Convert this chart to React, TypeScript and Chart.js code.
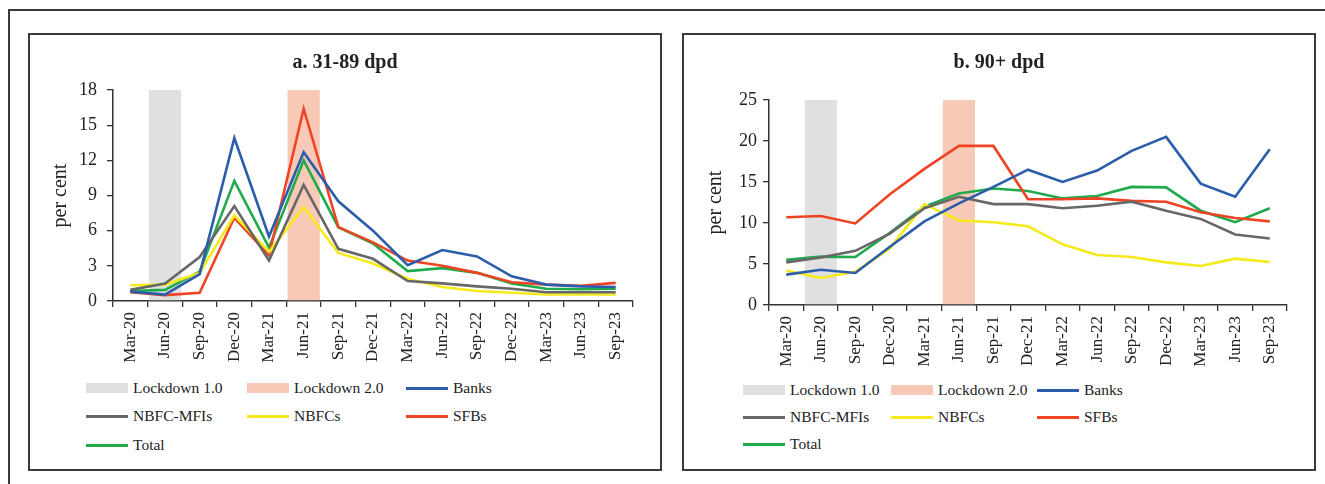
import React, { useEffect, useRef } from "react";
import { Chart, registerables } from "chart.js";

Chart.register(...registerables);

const categories = ["Mar-20", "Jun-20", "Sep-20", "Dec-20", "Mar-21", "Jun-21", "Sep-21", "Dec-21", "Mar-22", "Jun-22", "Sep-22", "Dec-22", "Mar-23", "Jun-23", "Sep-23"];

// Panel a: 31-89 dpd
const banksA = [0.8, 0.55, 2.3, 13.9, 5.5, 12.7, 8.5, 6.0, 3.05, 4.35, 3.8, 2.1, 1.4, 1.25, 1.2];
const nbfcMfiA = [0.95, 1.5, 3.75, 8.1, 3.45, 9.9, 4.45, 3.6, 1.7, 1.5, 1.25, 1.05, 0.75, 0.75, 0.75];
const nbfcA = [1.35, 1.4, 2.4, 7.3, 4.2, 8.0, 4.1, 3.2, 1.9, 1.2, 0.85, 0.7, 0.55, 0.55, 0.55];
const sfbA = [0.75, 0.5, 0.7, 7.1, 3.9, 16.4, 6.3, 5.0, 3.45, 3.0, 2.4, 1.6, 1.4, 1.3, 1.55];
const totalA = [0.85, 0.95, 2.5, 10.25, 4.55, 12.0, 6.3, 4.9, 2.55, 2.8, 2.4, 1.5, 1.05, 1.0, 1.05];
const lockdown1A = [null, 18, null, null, null, null, null, null, null, null, null, null, null, null, null];
const lockdown2A = [null, null, null, null, null, 18, null, null, null, null, null, null, null, null, null];

// Panel b: 90+ dpd
const banksB = [3.7, 4.3, 3.9, 7.1, 10.2, 12.4, 14.4, 16.5, 15.0, 16.4, 18.8, 20.5, 14.8, 13.2, 19.0];
const nbfcMfiB = [5.2, 5.8, 6.6, 8.7, 11.8, 13.2, 12.3, 12.3, 11.8, 12.1, 12.6, 11.5, 10.5, 8.6, 8.1];
const nbfcB = [4.2, 3.3, 4.05, 6.9, 12.3, 10.3, 10.1, 9.6, 7.4, 6.1, 5.85, 5.2, 4.75, 5.65, 5.25];
const sfbB = [10.7, 10.85, 9.95, 13.5, 16.6, 19.4, 19.4, 12.9, 12.9, 13.0, 12.7, 12.6, 11.3, 10.6, 10.2];
const totalB = [5.5, 5.9, 5.85, 8.8, 12.0, 13.6, 14.2, 13.9, 13.0, 13.3, 14.4, 14.35, 11.5, 10.1, 11.8];
const lockdown1B = [null, 25, null, null, null, null, null, null, null, null, null, null, null, null, null];
const lockdown2B = [null, null, null, null, null, 25, null, null, null, null, null, null, null, null, null];

const yTicksA = { min: 0, max: 18, step: 3 };
const yTicksB = { min: 0, max: 25, step: 5 };

const COLORS = {
  lock1: "#e0e0e0",
  lock2: "#f8c9b7",
  banks: "#2b5dab",
  mfi: "#676767",
  nbfc: "#f6eb1a",
  sfb: "#ee4424",
  total: "#1fab4c",
};

const FONT = "'Liberation Serif', 'Times New Roman', serif";

type PanelCfg = {
  banks: number[];
  mfi: number[];
  nbfc: number[];
  sfb: number[];
  total: number[];
  lock1: (number | null)[];
  lock2: (number | null)[];
  y: { min: number; max: number; step: number };
  yWidth: number;
  padTop: number;
  xHeight: number;
  yPad: number;
  titlePad: number;
};

function LineChart({ cfg, width, height }: { cfg: PanelCfg; width: number; height: number }) {
  const ref = useRef<HTMLCanvasElement>(null);
  useEffect(() => {
    if (!ref.current) return;
    const line = (label: string, data: number[], color: string) => ({
      type: "line" as const,
      label,
      data,
      borderColor: color,
      backgroundColor: color,
      borderWidth: 2.6,
      pointRadius: 0,
      tension: 0,
      order: 1,
    });
    const chart = new Chart(ref.current, {
      type: "bar",
      data: {
        labels: categories,
        datasets: [
          { type: "bar", label: "Lockdown 1.0", data: cfg.lock1, backgroundColor: COLORS.lock1, barPercentage: 0.93, categoryPercentage: 1, grouped: false, order: 10 } as any,
          { type: "bar", label: "Lockdown 2.0", data: cfg.lock2, backgroundColor: COLORS.lock2, barPercentage: 0.93, categoryPercentage: 1, grouped: false, order: 10 } as any,
          line("Banks", cfg.banks, COLORS.banks),
          line("NBFC-MFIs", cfg.mfi, COLORS.mfi),
          line("NBFCs", cfg.nbfc, COLORS.nbfc),
          line("SFBs", cfg.sfb, COLORS.sfb),
          line("Total", cfg.total, COLORS.total),
        ],
      },
      options: {
        animation: false,
        responsive: false,
        maintainAspectRatio: false,
        layout: { padding: { left: 0, right: 28, top: cfg.padTop, bottom: 0 } },
        plugins: { legend: { display: false }, tooltip: { enabled: false }, title: { display: false } },
        scales: {
          x: {
            type: "category",
            offset: true,
            grid: { display: true, drawOnChartArea: false, drawTicks: true, tickLength: 6, color: "#333", lineWidth: 1.3, offset: true },
            border: { display: true, color: "#333", width: 1.5 },
            ticks: { autoSkip: false, maxRotation: 90, minRotation: 90, padding: 5, color: "#222", font: { family: FONT, size: 17 } },
            afterFit: (s: any) => { s.height = cfg.xHeight; },
          },
          y: {
            min: cfg.y.min,
            max: cfg.y.max,
            grid: { display: true, drawOnChartArea: false, drawTicks: true, tickLength: 6, color: "#333", lineWidth: 1.3 },
            border: { display: true, color: "#333", width: 1.5 },
            ticks: { stepSize: cfg.y.step, padding: cfg.yPad, color: "#222", font: { family: FONT, size: 18 } },
            title: { display: true, text: "per cent", color: "#222", font: { family: FONT, size: 20 }, padding: { top: cfg.titlePad, bottom: 0 } },
            afterFit: (s: any) => { s.width = cfg.yWidth; },
          },
        },
      } as any,
    });
    return () => chart.destroy();
  }, [cfg]);
  return <canvas ref={ref} width={width} height={height} style={{ position: "absolute", left: 0, top: 0, width, height }} />;
}

const legendItems = [
  { label: "Lockdown 1.0", color: COLORS.lock1, band: true },
  { label: "Lockdown 2.0", color: COLORS.lock2, band: true },
  { label: "Banks", color: COLORS.banks, band: false },
  { label: "NBFC-MFIs", color: COLORS.mfi, band: false },
  { label: "NBFCs", color: COLORS.nbfc, band: false },
  { label: "SFBs", color: COLORS.sfb, band: false },
  { label: "Total", color: COLORS.total, band: false },
];

function Legend({ left, top, colX, rowY }: { left: number; top: number; colX: number[]; rowY: number[] }) {
  return (
    <>
      {legendItems.map((it, i) => {
        const c = i % 3;
        const r = Math.floor(i / 3);
        return (
          <div key={it.label} style={{ position: "absolute", left: left + colX[c], top: top + rowY[r] - 11, height: 22, display: "flex", alignItems: "center", whiteSpace: "nowrap" }}>
            <div style={{ width: 42, height: it.band ? 10 : 3, background: it.color, marginRight: 5 }} />
            <span style={{ fontFamily: FONT, fontSize: 15.5, color: "#222", lineHeight: "22px" }}>{it.label}</span>
          </div>
        );
      })}
    </>
  );
}

const cfgA: PanelCfg = { banks: banksA, mfi: nbfcMfiA, nbfc: nbfcA, sfb: sfbA, total: totalA, lock1: lockdown1A, lock2: lockdown2A, y: yTicksA, yWidth: 84, padTop: 56, xHeight: 73, yPad: 10, titlePad: 20 };
const cfgB: PanelCfg = { banks: banksB, mfi: nbfcMfiB, nbfc: nbfcB, sfb: sfbB, total: totalB, lock1: lockdown1B, lock2: lockdown2B, y: yTicksB, yWidth: 86, padTop: 66, xHeight: 69, yPad: 6, titlePad: 21 };

function Panel({ left, title, cfg, legendColX, legendRowY }: { left: number; title: string; cfg: PanelCfg; legendColX: number[]; legendRowY: number[] }) {
  return (
    <div style={{ position: "absolute", left, top: 33, width: 634, height: 438, border: "2px solid #3a3a3a", boxSizing: "border-box", background: "#fff" }}>
      <div style={{ position: "absolute", left: -1, top: -1, width: 632, height: 340 }}>
        <LineChart cfg={cfg} width={632} height={340} />
      </div>
      <div style={{ position: "absolute", left: 0, width: 630, top: 13, textAlign: "center", fontFamily: FONT, fontWeight: "bold", fontSize: 20, color: "#222", lineHeight: "26px" }}>{title}</div>
      <Legend left={-2} top={-35} colX={legendColX} rowY={legendRowY} />
    </div>
  );
}

export default function App() {
  return (
    <div style={{ position: "absolute", left: 0, top: 0, width: 1325, height: 484, background: "#fff", overflow: "hidden" }}>
      <div style={{ position: "absolute", left: 8, top: 9, width: 1330, height: 490, borderTop: "2px solid #3a3a3a", borderLeft: "2px solid #3a3a3a" }} />
      <Panel left={28} title="a. 31-89 dpd" cfg={cfgA} legendColX={[86 - 28, 247 - 28, 406 - 28]} legendRowY={[388, 416, 445]} />
      <Panel left={682} title="b. 90+ dpd" cfg={cfgB} legendColX={[743 - 682, 891 - 682, 1037 - 682]} legendRowY={[390, 417, 444]} />
    </div>
  );
}
